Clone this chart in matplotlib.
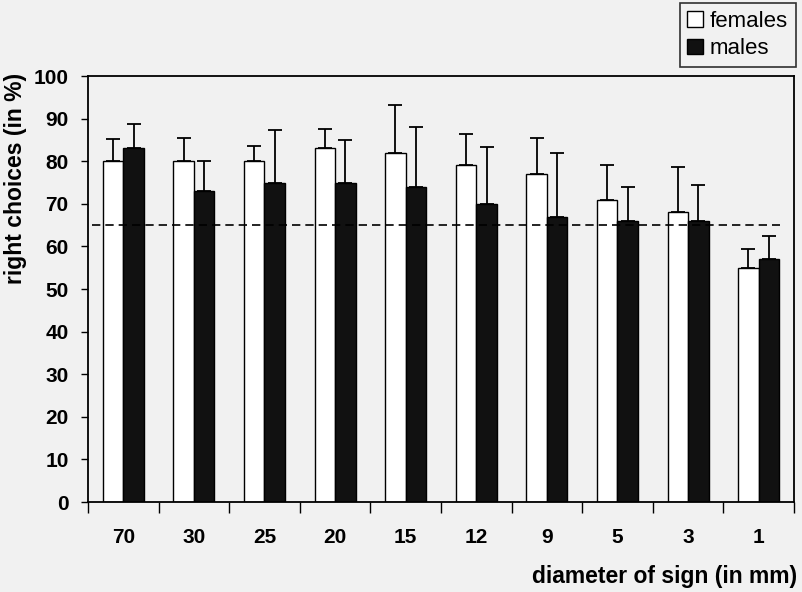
import numpy as np
import matplotlib.pyplot as plt
from matplotlib.ticker import FixedLocator, NullFormatter, FixedFormatter

plt.rcParams['font.family'] = ['Liberation Sans', 'DejaVu Sans']

diametros = ['70', '30', '25', '20', '15', '12', '9', '5', '3', '1']
femeas = [80, 80, 80, 83, 82, 79, 77, 71, 68, 55]
machos = [83, 73, 75, 75, 74, 70, 67, 66, 66, 57]
erroFemeas = [5.2, 5.4, 3.6, 4.6, 11.2, 7.4, 8.5, 8.0, 10.6, 4.5]
erroMachos = [5.7, 7.0, 12.3, 10.0, 14.1, 13.3, 15.0, 8.0, 8.5, 5.5]
limiar = 65

fundo = '#f1f1f1'
fig = plt.figure(figsize=(8.02, 5.92), dpi=100, facecolor=fundo)
ax = fig.add_axes([0.1097, 0.152, 0.8803, 0.7196], facecolor=fundo)

x = np.arange(len(diametros))
largura = 0.29
zeros = np.zeros(len(diametros))
configErro = dict(ecolor='black', elinewidth=1.3, capsize=5, capthick=1.3)

ax.bar(x + 0.355, femeas, largura, color='white', edgecolor='black', linewidth=1.0,
       yerr=[zeros, erroFemeas], error_kw=configErro, label='females', zorder=2)
ax.bar(x + 0.645, machos, largura, color='#111111', edgecolor='black', linewidth=1.0,
       yerr=[zeros, erroMachos], error_kw=configErro, label='males', zorder=2)

ax.axhline(limiar, xmin=0.005, xmax=0.98, color='black', linestyle=(0, (5, 3)), linewidth=1.2, zorder=3)

ax.set_xlim(0, len(diametros))
ax.set_ylim(0, 100)
ax.set_yticks(np.arange(0, 101, 10))
ax.tick_params(axis='y', direction='out', length=5, width=1, labelsize=15, pad=9)
for lbl in ax.get_yticklabels():
    lbl.set_fontweight('bold')

# ticks entre os grupos, rótulos no centro
ax.xaxis.set_major_locator(FixedLocator(np.arange(0, len(diametros) + 1)))
ax.xaxis.set_major_formatter(NullFormatter())
ax.xaxis.set_minor_locator(FixedLocator(x + 0.5))
ax.xaxis.set_minor_formatter(FixedFormatter(diametros))
ax.tick_params(axis='x', which='major', direction='out', length=8, width=1)
ax.tick_params(axis='x', which='minor', length=0, labelsize=15, pad=19)
for lbl in ax.get_xticklabels(minor=True):
    lbl.set_fontweight('bold')

for s in ax.spines.values():
    s.set_linewidth(1.3)

fig.text(16 / 802, 1 - 178 / 592, 'right choices (in %)', fontsize=16.5, fontweight='bold',
         rotation=90, ha='center', va='center')
fig.text(0.994, 0.015, 'diameter of sign (in mm)', fontsize=16.5, fontweight='bold',
         ha='right', va='baseline')

leg = fig.legend(loc='upper right', bbox_to_anchor=(0.992, 0.995), fontsize=16, frameon=True,
                 fancybox=False, edgecolor='black', facecolor=fundo, handlelength=0.7, handleheight=0.7,
                 handletextpad=0.3, borderpad=0.35, labelspacing=0.3, borderaxespad=0)
leg.get_frame().set_linewidth(1.2)

plt.savefig('out.png', dpi=100, facecolor=fundo)
